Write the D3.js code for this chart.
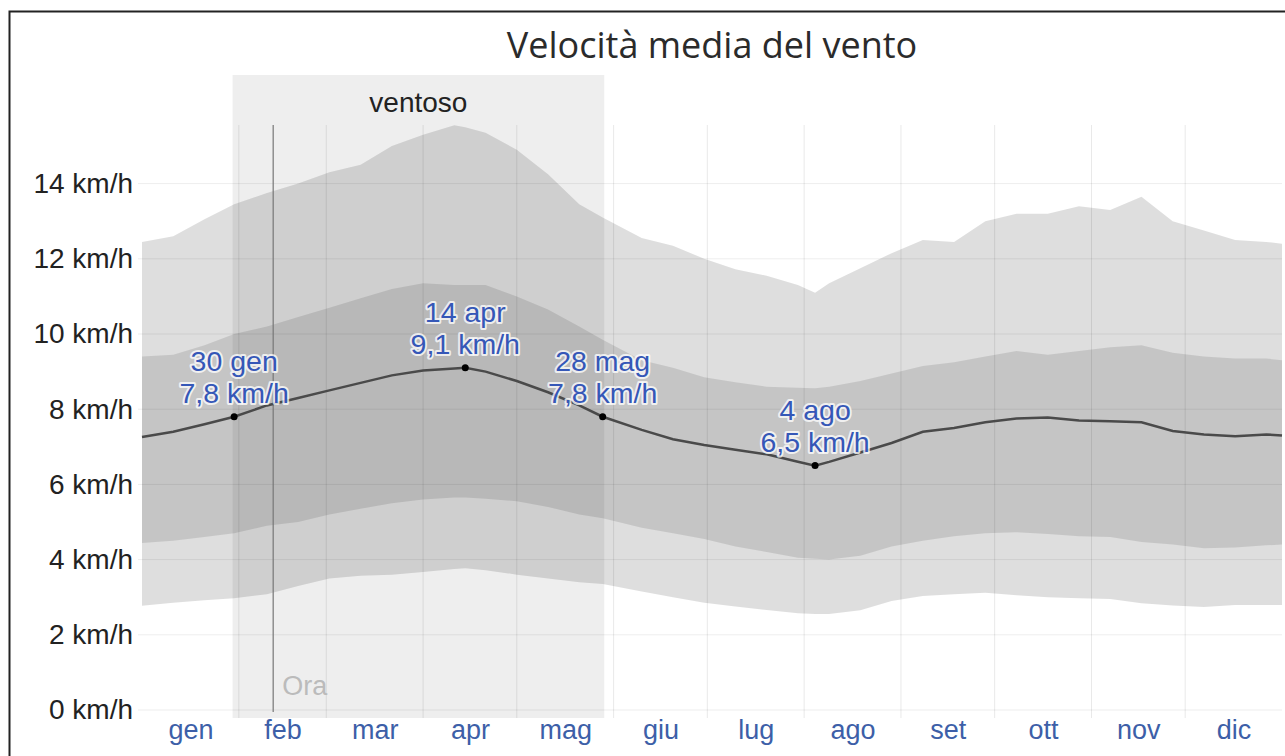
<!DOCTYPE html>
<html>
<head>
<meta charset="utf-8">
<script src="https://cdn.jsdelivr.net/npm/d3@7"></script>
<style>
body { margin:0; background:#fff; }
text { font-family: "Liberation Sans", Arial, sans-serif; }
</style>
</head>
<body>
<div id="chart"></div>
<script>
// day of year (0 = 1 gen) at which the curves were read
var days = [0,10,20,29.5,40,50,60,70,80,90,100,103.5,110,120,130,140,147.5,160,170,180,190,200,210,215.5,220,230,240,250,260,270,280,290,300,310,320,330,340,350,360,365];

// percentiles of the wind speed, km/h
var p90 = [12.45,12.6,13.05,13.45,13.75,14.0,14.3,14.5,15.0,15.3,15.55,15.5,15.35,14.9,14.25,13.45,13.1,12.55,12.35,12.0,11.72,11.55,11.3,11.1,11.35,11.75,12.15,12.5,12.45,13.0,13.2,13.2,13.4,13.3,13.65,13.0,12.75,12.5,12.45,12.4];
var p75 = [9.4,9.45,9.7,10.0,10.2,10.45,10.7,10.95,11.2,11.35,11.3,11.3,11.3,11.0,10.65,10.2,9.85,9.3,9.1,8.85,8.72,8.6,8.57,8.56,8.6,8.75,8.95,9.15,9.25,9.4,9.55,9.45,9.55,9.65,9.7,9.5,9.4,9.35,9.35,9.3];
var meanSpeed = [7.26,7.4,7.6,7.8,8.1,8.3,8.5,8.7,8.9,9.03,9.08,9.1,9.0,8.75,8.45,8.1,7.8,7.45,7.2,7.05,6.92,6.8,6.6,6.5,6.6,6.85,7.1,7.4,7.5,7.65,7.75,7.78,7.7,7.68,7.65,7.42,7.33,7.28,7.33,7.3];
var p25 = [4.44,4.5,4.6,4.7,4.9,5.0,5.2,5.35,5.5,5.6,5.65,5.65,5.62,5.55,5.4,5.2,5.1,4.85,4.7,4.55,4.35,4.2,4.05,4.02,4.0,4.1,4.35,4.5,4.62,4.7,4.73,4.68,4.62,4.6,4.47,4.4,4.3,4.32,4.38,4.4];
var p10 = [2.77,2.85,2.92,2.97,3.08,3.3,3.5,3.57,3.6,3.67,3.75,3.77,3.72,3.6,3.5,3.4,3.35,3.15,3.0,2.85,2.75,2.66,2.57,2.55,2.55,2.65,2.9,3.03,3.08,3.12,3.05,3.0,2.97,2.95,2.84,2.78,2.74,2.79,2.79,2.79];

var months = ["gen","feb","mar","apr","mag","giu","lug","ago","set","ott","nov","dic"];
var monthStarts = [0,31,59,90,120,151,181,212,243,273,304,334,365];
var yTicks = [0,2,4,6,8,10,12,14];

var windySeason = {from:29, to:148, label:"ventoso"};
var nowDay = 42;

// min / max annotations (index into days)
var highlights = [
  {i:3,  date:"30 gen"},
  {i:11, date:"14 apr"},
  {i:16, date:"28 mag"},
  {i:23, date:"4 ago"}
];

var width = 1285, height = 756;
var x = d3.scaleLinear().domain([0,365]).range([142,1282]);
var y = d3.scaleLinear().domain([0,16]).range([710,108.4]);
var fmt = function(v) { return d3.format(".1f")(v).replace(".", ","); };

var svg = d3.select("#chart").append("svg")
  .attr("width", width)
  .attr("height", height);

// frame
svg.append("path")
  .attr("d", "M9.5,760V11.5H1290")
  .attr("fill","none")
  .attr("stroke","#222")
  .attr("stroke-width",2);

svg.append("text")
  .text("Velocità media del vento")
  .attr("x", 712)
  .attr("y", 58)
  .attr("text-anchor","middle")
  .style("font-family","'Open Sans', sans-serif")
  .style("font-size","36px")
  .style("fill","#2b2b2b");

// windy season
svg.append("rect")
  .attr("x", x(windySeason.from))
  .attr("y", 75)
  .attr("width", x(windySeason.to) - x(windySeason.from))
  .attr("height", 643)
  .attr("fill","#eeeeee");

svg.append("text")
  .text(windySeason.label)
  .attr("x", (x(windySeason.from) + x(windySeason.to))/2)
  .attr("y", 112)
  .attr("text-anchor","middle")
  .style("font-size","28px")
  .style("fill","#222");

var idx = d3.range(days.length);

var band = function(lo, hi) {
  return d3.area()
    .x(function(i) { return x(days[i]); })
    .y0(function(i) { return y(lo[i]); })
    .y1(function(i) { return y(hi[i]); });
};

svg.append("path")
  .datum(idx)
  .attr("d", band(p10, p90))
  .attr("fill","#000")
  .attr("fill-opacity",0.13);

svg.append("path")
  .datum(idx)
  .attr("d", band(p25, p75))
  .attr("fill","#000")
  .attr("fill-opacity",0.11);

// grid
svg.append("g")
  .selectAll("line")
  .data(yTicks)
  .enter()
  .append("line")
  .attr("x1",138).attr("x2",1282)
  .attr("y1", function(d) { return y(d); })
  .attr("y2", function(d) { return y(d); })
  .attr("stroke","#000")
  .attr("stroke-opacity",0.07);

svg.append("g")
  .selectAll("line")
  .data(monthStarts.slice(1,12))
  .enter()
  .append("line")
  .attr("x1", function(d) { return x(d); })
  .attr("x2", function(d) { return x(d); })
  .attr("y1",125).attr("y2",718)
  .attr("stroke","#000")
  .attr("stroke-opacity",0.09);

// now
svg.append("line")
  .attr("x1", x(nowDay)).attr("x2", x(nowDay))
  .attr("y1",125).attr("y2",712)
  .attr("stroke","#777")
  .attr("stroke-width",1.2);

svg.append("text")
  .text("Ora")
  .attr("x", x(nowDay) + 9)
  .attr("y", 695)
  .style("font-size","27px")
  .style("fill","#bbb");

// axes
var yAxis = d3.axisLeft(y)
  .tickValues(yTicks)
  .tickSize(0)
  .tickPadding(0)
  .tickFormat(function(d) { return d + " km/h"; });

svg.append("g")
  .attr("transform","translate(133,0)")
  .call(yAxis)
  .call(function(g) { g.select(".domain").remove(); })
  .selectAll("text")
  .style("font-family","'Liberation Sans', Arial, sans-serif")
  .style("font-size","28px")
  .style("fill","#222");

var mids = months.map(function(m, i) { return (monthStarts[i] + monthStarts[i+1])/2; });
var xAxis = d3.axisBottom(x)
  .tickValues(mids)
  .tickSize(0)
  .tickPadding(0)
  .tickFormat(function(d, i) { return months[i]; });

svg.append("g")
  .attr("transform","translate(0,720)")
  .call(xAxis)
  .call(function(g) { g.select(".domain").remove(); })
  .selectAll("text")
  .attr("dy","0.71em")
  .style("font-family","'Liberation Sans', Arial, sans-serif")
  .style("font-size","27px")
  .style("fill","#3d5fa8");

// mean line
svg.append("path")
  .datum(idx)
  .attr("d", d3.line()
    .x(function(i) { return x(days[i]); })
    .y(function(i) { return y(meanSpeed[i]); }))
  .attr("fill","none")
  .attr("stroke","#4a4a4a")
  .attr("stroke-width",2.5);

var hl = svg.selectAll(".highlight")
  .data(highlights)
  .enter()
  .append("g")
  .attr("class","highlight")
  .attr("transform", function(d) {
    return "translate(" + x(days[d.i]) + "," + y(meanSpeed[d.i]) + ")";
  });

hl.append("circle")
  .attr("r",3.5)
  .attr("fill","#000");

hl.each(function(d) {
  var lines = [d.date, fmt(meanSpeed[d.i]) + " km/h"];
  d3.select(this).selectAll("text")
    .data(lines)
    .enter()
    .append("text")
    .text(function(t) { return t; })
    .attr("y", function(t, j) { return -46 + j*32; })
    .attr("text-anchor","middle")
    .style("font-size","28.5px")
    .style("fill","#3557b7")
    .style("stroke","#fff")
    .style("stroke-opacity",0.75)
    .style("stroke-width",4)
    .style("stroke-linejoin","round")
    .style("paint-order","stroke");
});
</script>
</body>
</html>
